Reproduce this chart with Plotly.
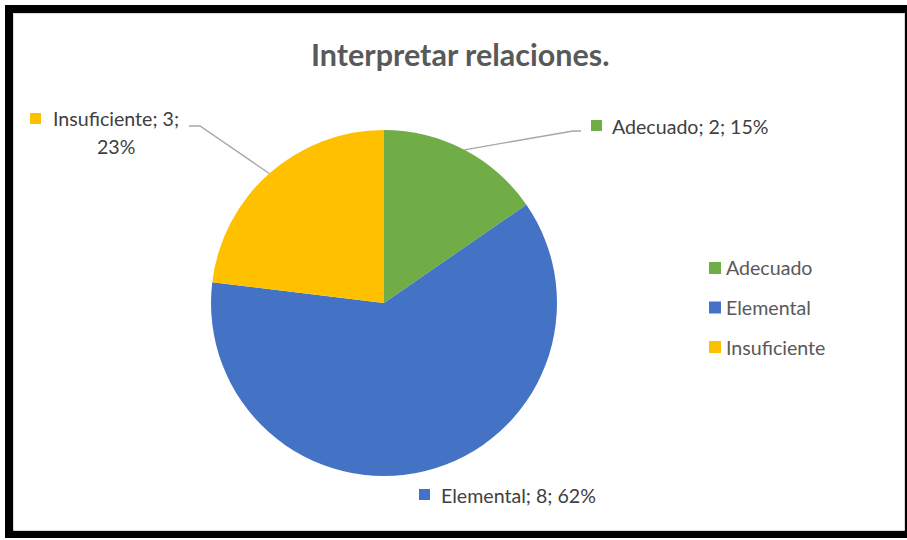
import math
import plotly.graph_objects as go

# ---- data ----
categories = ["Adecuado", "Elemental", "Insuficiente"]
values = [2, 8, 3]
colors = ["#70AD47", "#4472C4", "#FFC000"]
title_text = "Interpretar relaciones."

W, H = 907, 540
FONT = "Lato"
TEXT_COLOR = "#595959"

total = sum(values)
pcts = [round(v / total * 100) for v in values]

# pie geometry (pixels)
cx, cy, R = 384, 303, 173

def px(x):
    return x / W

def py(y):
    return 1 - y / H

fig = go.Figure()
fig.add_trace(go.Pie(
    labels=categories,
    values=values,
    marker=dict(colors=colors, line=dict(width=0)),
    sort=False,
    direction="clockwise",
    rotation=0,
    textinfo="none",
    showlegend=False,
    domain=dict(x=[px(cx - R), px(cx + R)], y=[py(cy + R), py(cy - R)]),
    hovertemplate="%{label}; %{value}; %{percent}<extra></extra>",
))

shapes = []
annotations = []

# frame
shapes.append(dict(type="rect", xref="paper", yref="paper",
                   x0=px(9), x1=px(909), y0=py(534), y1=py(9),
                   line=dict(color="black", width=8), fillcolor="rgba(0,0,0,0)", layer="above"))
shapes.append(dict(type="rect", xref="paper", yref="paper",
                   x0=px(13.5), x1=px(904.5), y0=py(530.5), y1=py(13.5),
                   line=dict(color="#D9D9D9", width=1), fillcolor="rgba(0,0,0,0)", layer="above"))

# title
annotations.append(dict(text="<b>" + title_text + "</b>", x=px(460), y=py(54), xref="paper", yref="paper",
                        showarrow=False, xanchor="center", yanchor="middle",
                        font=dict(family=FONT, size=30.5, color=TEXT_COLOR)))

# data-label anchor points derived from data (midpoint of each slice on the rim)
cum = 0
mids = []
for v in values:
    a = (cum + v / 2) / total * 2 * math.pi
    mids.append((cx + R * math.sin(a), cy - R * math.cos(a)))
    cum += v

# label layout (text block positions)
label_font = dict(family=FONT, size=19.6, color="#404040")
SQ = 11
# Adecuado
i = 0
mx, my = mids[i]
shapes.append(dict(type="path", xref="paper", yref="paper",
                   path=f"M {px(mx)} {py(my)} L {px(573)} {py(131)} L {px(581)} {py(131)}",
                   line=dict(color="#A6A6A6", width=1.3)))
shapes.append(dict(type="rect", xref="paper", yref="paper",
                   x0=px(591), x1=px(591 + SQ), y0=py(120 + SQ), y1=py(120),
                   fillcolor=colors[i], line=dict(width=0)))
annotations.append(dict(text=f"{categories[i]}; {values[i]}; {pcts[i]}%", x=px(610), y=py(126),
                        xref="paper", yref="paper", showarrow=False, xanchor="left", yanchor="middle",
                        font=label_font))
# Elemental
i = 1
shapes.append(dict(type="rect", xref="paper", yref="paper",
                   x0=px(419), x1=px(419 + SQ), y0=py(489 + SQ), y1=py(489),
                   fillcolor=colors[i], line=dict(width=0)))
annotations.append(dict(text=f"{categories[i]}; {values[i]}; {pcts[i]}%", x=px(439), y=py(495),
                        xref="paper", yref="paper", showarrow=False, xanchor="left", yanchor="middle",
                        font=label_font))
# Insuficiente
i = 2
mx, my = mids[i]
shapes.append(dict(type="path", xref="paper", yref="paper",
                   path=f"M {px(mx)} {py(my)} L {px(200)} {py(126)} L {px(189)} {py(126)}",
                   line=dict(color="#A6A6A6", width=1.3)))
shapes.append(dict(type="rect", xref="paper", yref="paper",
                   x0=px(30), x1=px(30 + SQ), y0=py(113 + SQ), y1=py(113),
                   fillcolor=colors[i], line=dict(width=0)))
annotations.append(dict(text=f"{categories[i]}; {values[i]};", x=px(116), y=py(119),
                        xref="paper", yref="paper", showarrow=False, xanchor="center", yanchor="middle",
                        font=label_font))
annotations.append(dict(text=f"{pcts[i]}%", x=px(116), y=py(146),
                        xref="paper", yref="paper", showarrow=False, xanchor="center", yanchor="middle",
                        font=label_font))

# legend (built from categories / colors)
leg_y0, leg_dy = 268, 39.5
for k, (cat, col) in enumerate(zip(categories, colors)):
    yc = leg_y0 + k * leg_dy
    shapes.append(dict(type="rect", xref="paper", yref="paper",
                       x0=px(709), x1=px(721), y0=py(yc + 6), y1=py(yc - 6),
                       fillcolor=col, line=dict(width=0)))
    annotations.append(dict(text=cat, x=px(724), y=py(yc), xref="paper", yref="paper",
                            showarrow=False, xanchor="left", yanchor="middle",
                            font=dict(family=FONT, size=19.6, color=TEXT_COLOR)))

fig.update_layout(
    width=W, height=H,
    margin=dict(l=0, r=0, t=0, b=0),
    paper_bgcolor="white",
    plot_bgcolor="white",
    shapes=shapes,
    annotations=annotations,
)

fig.write_html("out.html", config={"displayModeBar": False},
               post_script="document.body.style.margin='0';")
